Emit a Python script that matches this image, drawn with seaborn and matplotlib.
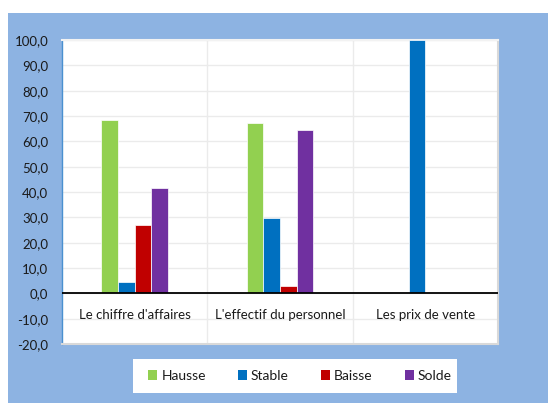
import matplotlib
matplotlib.use("Agg")
import matplotlib.pyplot as plt
import seaborn as sns
import pandas as pd
from matplotlib.patches import Rectangle, Patch

categories = ["Le chiffre d'affaires", "L'effectif du personnel", "Les prix de vente"]
series = ["Hausse", "Stable", "Baisse", "Solde"]
hausse = [68.6, 67.1, 0.0]
stable = [4.3, 29.9, 100.0]
baisse = [26.8, 2.9, 0.0]
solde = [41.6, 64.6, 0.0]
yticks = [-20, -10, 0, 10, 20, 30, 40, 50, 60, 70, 80, 90, 100]
ytick_labels = ["-20,0", "-10,0", "0,0", "10,0", "20,0", "30,0", "40,0",
                "50,0", "60,0", "70,0", "80,0", "90,0", "100,0"]
colors = ["#92D050", "#0070C0", "#C00000", "#7030A0"]

rows = []
for s, vals in zip(series, [hausse, stable, baisse, solde]):
    for c, v in zip(categories, vals):
        rows.append({"cat": c, "serie": s, "val": v})
df = pd.DataFrame(rows)

sns.set_style("white")
plt.rcParams["font.family"] = ["Lato", "DejaVu Sans"]

W, H = 548, 403
fig = plt.figure(figsize=(W / 100, H / 100), dpi=100, facecolor="white")
fig.patches.append(Rectangle((8 / W, 0), 1 - 8 / W, (H - 13) / H,
                             transform=fig.transFigure, facecolor="#8DB3E2",
                             edgecolor="none", zorder=-3))
fig.patches.append(Rectangle((133 / W, (H - 393) / H), (457 - 133) / W, 34 / H,
                             transform=fig.transFigure, facecolor="white",
                             edgecolor="none", zorder=-2))

ax = fig.add_axes([62 / W, (H - 344) / H, 436 / W, 304 / H])
ax.set_facecolor("white")
sns.barplot(data=df, x="cat", y="val", hue="serie", order=categories,
            hue_order=series, palette=colors, width=0.46, ax=ax,
            saturation=1, edgecolor="white", linewidth=0.5, legend=False,
            zorder=3)

ax.set_xlim(-0.5, 2.5)
ax.set_ylim(-20, 100)
ax.set_yticks(yticks)
ax.set_yticklabels(ytick_labels)
ax.set_xticks([])
ax.set_xticks([0.5, 1.5], minor=True)
ax.set_xlabel("")
ax.set_ylabel("")
ax.grid(axis="y", which="major", color="#EBEBEB", linewidth=1, zorder=0)
ax.grid(axis="x", which="minor", color="#EBEBEB", linewidth=1, zorder=0)
ax.set_axisbelow(True)
ax.tick_params(axis="y", length=0, pad=10, labelsize=9.5, labelcolor="#1a1a1a")
ax.tick_params(axis="x", which="both", length=0)
ax.axhline(0, color="black", linewidth=1.3, zorder=5)

for i, c in enumerate(categories):
    ax.text(i, -8.7, c, ha="center", va="center", fontsize=9.5, color="#1a1a1a")

ax.spines["left"].set_color("#4A90D0")
ax.spines["left"].set_linewidth(1)
for s in ["top", "right", "bottom"]:
    ax.spines[s].set_color("#D9D9D9")
    ax.spines[s].set_linewidth(1.5)
ax.spines["top"].set_color("#F2F2F2")

handles = [Patch(facecolor=col, edgecolor="none") for col in colors]
leg = fig.legend(handles, series, loc="center", ncol=4,
                 bbox_to_anchor=(300 / W, (H - 376) / H), frameon=False,
                 fontsize=10, handlelength=0.65, handleheight=0.65,
                 handletextpad=0.3, columnspacing=2.3)
for t in leg.get_texts():
    t.set_color("#1a1a1a")

fig.savefig("out.png", dpi=100, facecolor="white")
